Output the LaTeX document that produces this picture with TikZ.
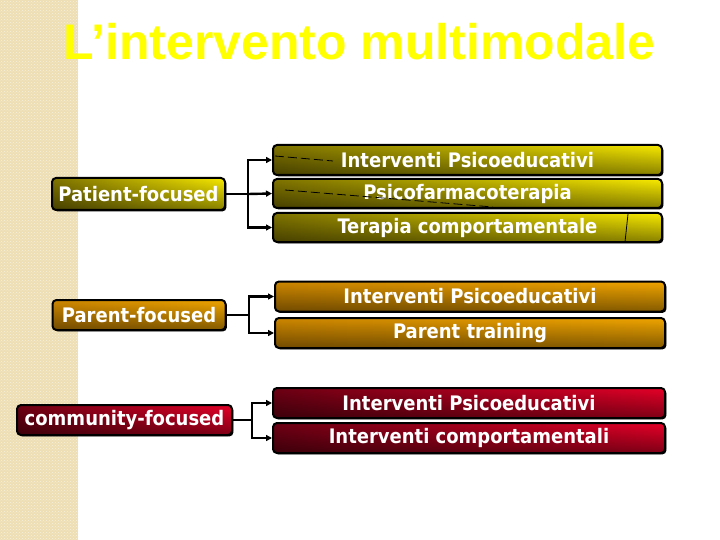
\documentclass[tikz,border=0pt]{standalone}
\usepackage{fontspec}
\setmainfont{Liberation Sans}
\newfontfamily\boxfont{DejaVu Sans Condensed}
\usetikzlibrary{arrows.meta,shadows,fadings,patterns}
\definecolor{strip}{RGB}{238,222,180}
\definecolor{ydark}{RGB}{128,116,0}
\definecolor{ybright}{RGB}{248,234,0}
\definecolor{odark}{RGB}{205,135,0}
\definecolor{obright}{RGB}{240,165,0}
\definecolor{rdark}{RGB}{110,0,20}
\definecolor{rbright}{RGB}{230,0,40}
\definecolor{titleyellow}{RGB}{255,255,0}
\tikzset{
  gbox/.style n args={4}{rounded corners=4pt, draw=black, line width=2pt,
    left color=#1, right color=#2, minimum width=#3, minimum height=#4,
    inner sep=0pt, text=white, font=\boxfont\bfseries\fontsize{20}{20}\selectfont,
    drop shadow={shadow xshift=1.4pt, shadow yshift=-1.4pt, opacity=1, fill=black},
    postaction={draw=none, fill=black, fill opacity=0.45, path fading=north}},
  conn/.style={line width=2.4pt, -{Triangle[length=6pt,width=6pt]}},
  artifact/.style={line width=0.8pt, dash pattern=on 9pt off 4pt},
  titlestyle/.style={text=titleyellow, font=\bfseries\fontsize{50}{50}\selectfont, inner sep=0pt, anchor=base}
}
\begin{document}
\begin{tikzpicture}[x=1pt,y=-1pt]
\useasboundingbox (0,0) rectangle (720,540);
\fill[white] (0,0) rectangle (720,540);
\fill[strip] (0,0) rectangle (78,540);
\fill[pattern=crosshatch dots, pattern color=white!55!strip] (0,0) rectangle (78,540);

\node[titlestyle] (title) at (359.5,60) {L’intervento multimodale};

% patient-focused group
\node[gbox={ydark}{ybright}{173pt}{32pt}] (p) at (138.5,194) {Patient-focused};
\node[gbox={ydark}{ybright}{389pt}{30pt}] (p1) at (467.5,160) {Interventi Psicoeducativi};
\node[gbox={ydark}{ybright}{389pt}{29pt}] (p2) at (467.5,193.5) {Psicofarmacoterapia};
\node[gbox={ydark}{ybright}{389pt}{29pt}] (p3) at (467.5,227.5) {Terapia comportamentale};
\coordinate (pj) at (248,194);
\draw[line width=2.4pt] (p.east) -- (pj);
\draw[conn] (pj) |- (p1.west);
\draw[conn] (pj) -- (p2.west);
\draw[conn] (pj) |- (p3.west);
\draw[artifact] (275,156) -- (333,161);
\draw[artifact] (285,190) -- (493,207);
\draw[line width=0.8pt] (628,214) -- (625,242);

% parent-focused group
\node[gbox={odark}{obright}{173pt}{30pt}] (q) at (139,315) {Parent-focused};
\node[gbox={odark}{obright}{390pt}{30pt}] (q1) at (470,296.5) {Interventi Psicoeducativi};
\node[gbox={odark}{obright}{390pt}{30pt}] (q2) at (470,333) {Parent training};
\coordinate (qj) at (249,315);
\draw[line width=2.4pt] (q.east) -- (qj);
\draw[conn] (qj) |- (q1.west);
\draw[conn] (qj) |- (q2.west);

% community-focused group
\node[gbox={rdark}{rbright}{215pt}{30pt}] (r) at (124.5,420) {community-focused};
\node[gbox={rdark}{rbright}{392pt}{30pt}] (r1) at (469,403) {Interventi Psicoeducativi};
\node[gbox={rdark}{rbright}{392pt}{30pt}] (r2) at (469,438) {Interventi comportamentali};
\coordinate (rj) at (252,420);
\draw[line width=2.4pt] (r.east) -- (rj);
\draw[conn] (rj) |- (r1.west);
\draw[conn] (rj) |- (r2.west);
\end{tikzpicture}
\end{document}
